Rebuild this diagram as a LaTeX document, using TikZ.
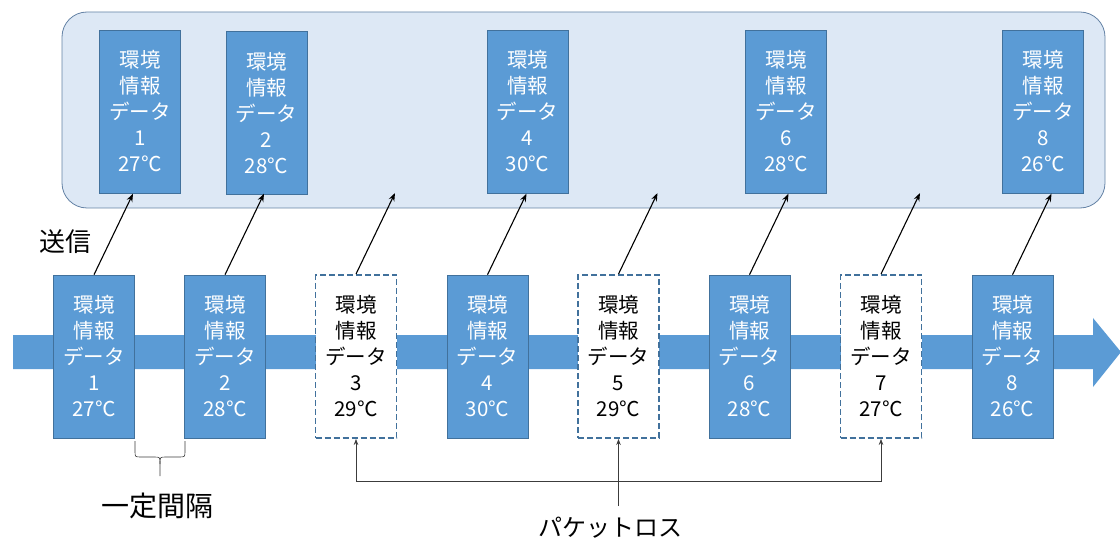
\documentclass[tikz,border=0pt]{standalone}
\usepackage{fontspec}
\setmainfont{Noto Sans CJK JP}
\usetikzlibrary{calc,arrows.meta}
\definecolor{boxblue}{RGB}{91,155,213}
\definecolor{boxedge}{RGB}{65,113,156}
\definecolor{panelfill}{RGB}{221,232,245}
\definecolor{paneledge}{RGB}{100,130,165}
\definecolor{lineg}{RGB}{60,60,60}
\begin{document}
\begin{tikzpicture}[x=1pt,y=-1pt,
  databox/.style={minimum width=81pt, minimum height=163pt, inner sep=0pt, align=center, font=\fontsize{20.5}{26}\selectfont},
  sentbox/.style={databox, fill=boxblue, draw=boxedge, line width=0.6pt, text=white},
  lostbox/.style={databox, fill=white, draw=boxedge, line width=1.9pt, dash pattern=on 6pt off 3pt, text=black},
  sendarrow/.style={-{Stealth[length=8pt,width=6pt]}, line width=1.1pt, black},
  lossarrow/.style={-{Stealth[length=6pt,width=4.5pt]}, line width=0.7pt, lineg},
  lbl/.style={inner sep=0pt, text=black},
]
\useasboundingbox (0,0) rectangle (1120,540);
% receiving panel
\node[draw=paneledge, line width=0.8pt, fill=panelfill, rounded corners=25pt, minimum width=1043pt, minimum height=196pt, inner sep=0pt] (panel) at (583.5,110) {};
% time band arrow
\fill[boxblue] (13,335) -- (1093,335) -- (1093,318) -- (1121,352) -- (1093,387) -- (1093,369) -- (13,369) -- cycle;
% sent data (bottom)
\node[sentbox] (b1) at (94,356.5) {環境\\情報\\データ\\1\\27℃};
\node[sentbox] (b2) at (225,356.5) {環境\\情報\\データ\\2\\28℃};
\node[lostbox] (b3) at (356,356.5) {環境\\情報\\データ\\3\\29℃};
\node[sentbox] (b4) at (487.5,356.5) {環境\\情報\\データ\\4\\30℃};
\node[lostbox] (b5) at (618.5,356.5) {環境\\情報\\データ\\5\\29℃};
\node[sentbox] (b6) at (749.5,356.5) {環境\\情報\\データ\\6\\28℃};
\node[lostbox] (b7) at (881,356.5) {環境\\情報\\データ\\7\\27℃};
\node[sentbox] (b8) at (1012.5,356.5) {環境\\情報\\データ\\8\\26℃};
% received data (top)
\node[sentbox] (t1) at (140,111.5) {環境\\情報\\データ\\1\\27℃};
\node[sentbox] (t2) at (266.5,113) {環境\\情報\\データ\\2\\28℃};
\node[sentbox] (t4) at (527.5,111.5) {環境\\情報\\データ\\4\\30℃};
\node[sentbox] (t6) at (786,111.5) {環境\\情報\\データ\\6\\28℃};
\node[sentbox] (t8) at (1043,111.5) {環境\\情報\\データ\\8\\26℃};
% send arrows
\foreach \i in {1,...,8}{
  \coordinate (e\i) at ($(b\i.north)+(39,-81)$);
  \draw[sendarrow] (b\i.north) -- (e\i);
}
% labels
\node[lbl, font=\fontsize{26}{30}\selectfont] (send) at (65,242) {送信};
\node[lbl, font=\fontsize{28}{32}\selectfont] (gap) at (157,506) {一定間隔};
\node[lbl, font=\fontsize{24}{28}\selectfont] (ploss) at (610,528) {パケットロス};
% brace for interval
\draw[lineg, line width=0.6pt] (135,441) -- (135,451) .. controls (135,457) .. (141,457) -- (154,457) .. controls (160,457) .. (160,464) -- (160,476);
\draw[lineg, line width=0.6pt] (185,441) -- (185,451) .. controls (185,457) .. (179,457) -- (166,457) .. controls (160,457) .. (160,464);
% packet loss lines
\coordinate (lj) at (618.5,481);
\coordinate (ls) at (618.5,506);
\draw[lossarrow] (lj) -| (b3.south);
\draw[lossarrow] (lj) -| (b7.south);
\draw[lossarrow] (ls) -- (b5.south);
\end{tikzpicture}
\end{document}
